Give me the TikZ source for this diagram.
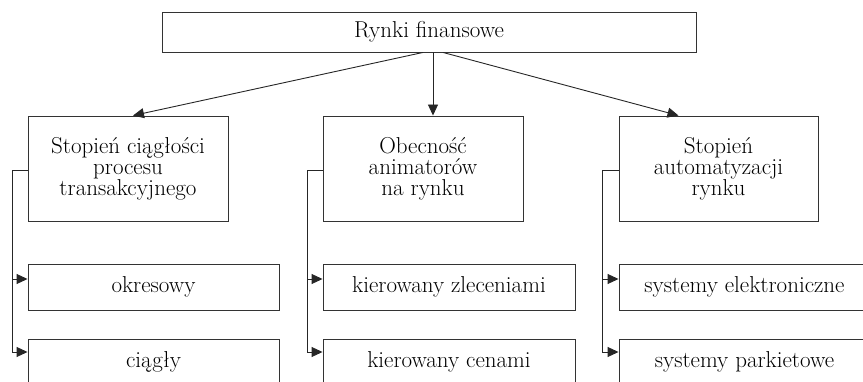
\documentclass[tikz,border=0pt]{standalone}
\usepackage{fontspec}
\usetikzlibrary{arrows.meta}
\begin{document}
\begin{tikzpicture}[x=1pt,y=-1pt,
  box/.style={draw=black!80,line width=0.9pt,inner sep=0pt,align=center,
    font=\fontsize{23}{21}\selectfont},
  conn/.style={draw=black!85,line width=0.9pt},
  arr/.style={conn,-{Triangle[length=11pt,width=10pt]}}]
\useasboundingbox (0,0) rectangle (863,382);
\clip (0,0) rectangle (863,382);
\node[box,minimum width=534,minimum height=40] (top) at (429,32) {Rynki finansowe};
\node[box,minimum width=200,minimum height=105] (b1) at (128,168.5) {Stopień ciągłości\\procesu\\transakcyjnego};
\node[box,minimum width=200,minimum height=105] (b2) at (423,168.5) {Obecność\\animatorów\\na rynku};
\node[box,minimum width=199,minimum height=105] (b3) at (718.5,168.5) {Stopień\\automatyzacji\\rynku};
\node[box,minimum width=251,minimum height=46] (l1) at (153.5,287) {okresowy};
\node[box,minimum width=251,minimum height=46] (l2) at (153.5,362) {ciągły};
\node[box,minimum width=252,minimum height=46] (m1) at (449,287) {kierowany zleceniami};
\node[box,minimum width=252,minimum height=46] (m2) at (449,362) {kierowany cenami};
\node[box,minimum width=251,minimum height=46] (r1) at (744.5,287) {systemy elektroniczne};
\node[box,minimum width=251,minimum height=46] (r2) at (744.5,362) {systemy parkietowe};
% top connectors
\draw[arr] ([xshift=-6]top.south) -- ([xshift=5]b1.north);
\draw[arr] ([xshift=4]top.south) -- ([xshift=4]top.south |- b2.north);
\draw[arr] ([xshift=14]top.south) -- ([xshift=-40]b3.north);
% side connectors
\coordinate (la) at (12,279); \coordinate (lb) at (12,352);
\coordinate (ma) at (307,279); \coordinate (mb) at (307,352);
\coordinate (ra) at (602,279); \coordinate (rb) at (602,352);
\draw[conn] ([yshift=-1.5]b1.west) -| (lb);
\draw[arr] (la) -- (l1.west |- la);
\draw[arr] (lb) -- (l2.west |- lb);
\draw[conn] ([yshift=-1.5]b2.west) -| (mb);
\draw[arr] (ma) -- (m1.west |- ma);
\draw[arr] (mb) -- (m2.west |- mb);
\draw[conn] ([yshift=-1.5]b3.west) -| (rb);
\draw[arr] (ra) -- (r1.west |- ra);
\draw[arr] (rb) -- (r2.west |- rb);
\end{tikzpicture}
\end{document}
